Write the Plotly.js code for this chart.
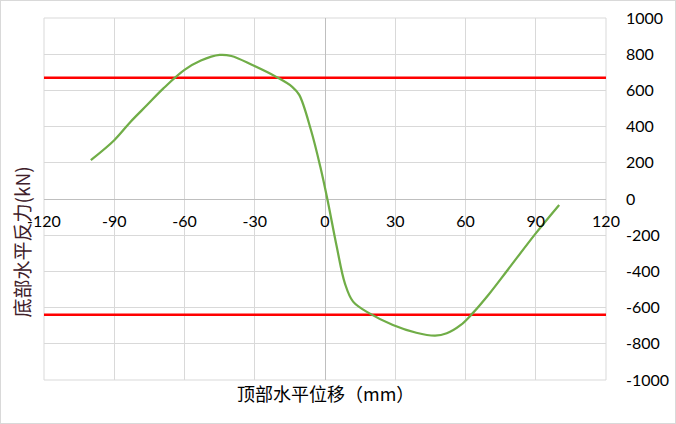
<!DOCTYPE html>
<html>
<head>
<meta charset="utf-8">
<script src="https://cdn.plot.ly/plotly-3.0.1.min.js"></script>
<style>
html,body{margin:0;padding:0;background:#fff;}
#chart{width:674px;height:422px;border:1px solid #d9d9d9;}
</style>
</head>
<body>
<div id="chart"></div>
<script>
// Displacement at top (mm) and base reaction (kN)
var displacement = [-100, -90, -83, -76, -69, -60, -53, -45, -40, -31, -21, -14, -11, -6, -2, 1, 5, 8.5, 12, 19, 29, 39, 47, 52, 58, 63, 70, 78, 90, 100];
var reaction = [215, 325, 427, 519, 611, 713, 765, 796, 790, 740, 676, 620, 575, 381, 178, 0, -263, -466, -567, -632, -696, -739, -755, -742, -696, -632, -526, -392, -190, -33];
// Horizontal reference levels (kN)
var refX = [-120, 120];
var upperLevel = [670, 670];
var lowerLevel = [-640, -640];
var xTickVals = [-120, -90, -60, -30, 0, 30, 60, 90, 120];
var yTickVals = [-1000, -800, -600, -400, -200, 0, 200, 400, 600, 800, 1000];
var xTitle = '顶部水平位移（mm）';
var yTitle = '底部水平反力(kN)';

var font = 'Lato, "Noto Sans CJK SC", sans-serif';
var traces = [
  {x: refX, y: upperLevel, mode: 'lines', line: {color: '#ff0000', width: 2.5}, hoverinfo: 'skip'},
  {x: refX, y: lowerLevel, mode: 'lines', line: {color: '#ff0000', width: 2.5}, hoverinfo: 'skip'},
  {x: displacement, y: reaction, mode: 'lines', line: {color: '#70ad47', width: 2.25, shape: 'spline', smoothing: 1}}
];
var layout = {
  width: 674, height: 422,
  margin: {l: 43, r: 69, t: 17, b: 43},
  showlegend: false,
  paper_bgcolor: '#fff', plot_bgcolor: '#fff',
  font: {family: font, size: 16, color: '#000'},
  xaxis: {
    range: [-120, 120], tickvals: xTickVals, ticktext: xTickVals.map(String),
    anchor: 'free', position: 0.5,
    showgrid: true, gridcolor: '#d9d9d9', gridwidth: 1,
    zeroline: true, zerolinecolor: '#bfbfbf', zerolinewidth: 1,
    showline: false, ticks: '', ticklabelstandoff: 11,
    tickfont: {family: font, size: 16, color: '#000'}
  },
  yaxis: {
    range: [-1000, 1000], tickvals: yTickVals, ticktext: yTickVals.map(String),
    side: 'right',
    showgrid: true, gridcolor: '#d9d9d9', gridwidth: 1,
    zeroline: true, zerolinecolor: '#bfbfbf', zerolinewidth: 1,
    showline: false, ticks: '', ticklabelstandoff: 19,
    tickfont: {family: font, size: 16, color: '#000'}
  },
  shapes: [
    {type: 'rect', xref: 'paper', yref: 'paper', x0: 0, x1: 1, y0: 0, y1: 1, line: {color: '#d9d9d9', width: 1}, layer: 'below'}
  ],
  annotations: [
    {text: xTitle, xref: 'paper', yref: 'paper', x: 0.5, y: 0, yshift: -13, showarrow: false,
     font: {family: '"Noto Sans CJK SC", Lato, sans-serif', size: 18, color: '#000'}, xanchor: 'center', yanchor: 'middle'},
    {text: yTitle, xref: 'paper', yref: 'paper', x: 0, xshift: -23, y: 0.38, textangle: -90, showarrow: false,
     font: {family: '"Noto Sans CJK SC", Lato, sans-serif', size: 19, color: '#40202a'}, xanchor: 'center', yanchor: 'middle'}
  ]
};
Plotly.newPlot('chart', traces, layout, {displayModeBar: false, staticPlot: true});
</script>
</body>
</html>
